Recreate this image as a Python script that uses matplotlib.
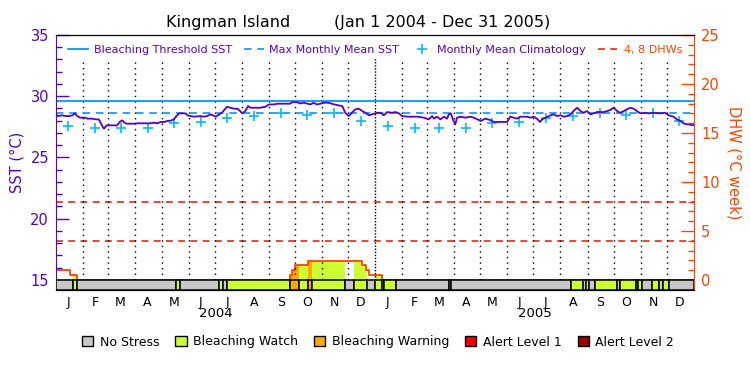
import matplotlib
matplotlib.use('Agg')
import matplotlib.pyplot as plt
import matplotlib.transforms as mtransforms
from matplotlib.lines import Line2D
from matplotlib.patches import Patch
import numpy as np

# ---------------- data (days since 2004-01-01) ----------------
sst_day = [0, 1.5, 7, 11, 15, 19, 21.5, 24.5, 27.5, 34, 36, 41.5, 45.5, 49, 51, 53, 55, 58, 61, 70,
           73, 76, 78.5, 81, 89, 93, 101, 108, 112, 116, 120, 124, 127.5, 131, 135, 138, 141, 148.5,
           150.5, 154, 158, 166, 170, 173, 177, 181, 183, 187, 190, 196, 200, 204, 208, 211, 213.5,
           217, 220, 223, 229, 234, 240, 244, 250, 253.5, 268, 271, 276, 280, 284, 291.5, 295, 299,
           303, 307, 312, 319, 324, 328, 331.5, 335.5, 339, 343, 347, 351, 354.5, 358.5, 362, 368,
           372, 375.5, 379.5, 385, 389, 393, 396.5, 402.5, 414, 421.5, 427, 431, 433, 436.5, 440.5,
           444.5, 448, 450, 452.5, 455, 457.5, 459.5, 463.5, 469, 475, 478.5, 484.5, 486.5, 492,
           497.5, 501.5, 509, 517, 518.5, 520.5, 524.5, 528, 532, 539.5, 543.5, 547.5, 551, 554.5,
           557, 561, 566.5, 570.5, 574, 578, 582, 585.5, 589.5, 593, 597, 601, 604.5, 608.5, 612.5,
           616, 620, 627.5, 631.5, 635, 639, 643, 646.5, 650.5, 654, 658, 662, 665.5, 669.5, 673.5,
           679, 684.5, 692.5, 698, 702, 707.5, 711.5, 715.5, 719, 723, 726.5, 731]
sst_val = [28.60, 28.38, 28.44, 28.38, 28.38, 28.44, 28.60, 28.38, 28.25, 28.25, 28.17, 28.17, 28.11,
           28.11, 27.84, 27.57, 27.35, 27.62, 27.62, 27.62, 27.90, 28.03, 27.84, 27.76, 27.76, 27.79,
           27.79, 27.79, 27.84, 27.79, 27.90, 27.90, 27.98, 28.00, 28.11, 28.38, 28.60, 28.60, 28.44,
           28.38, 28.33, 28.38, 28.33, 28.38, 28.52, 28.40, 28.33, 28.52, 28.65, 29.14, 29.06, 28.98,
           28.98, 28.79, 28.60, 28.79, 29.20, 29.06, 29.06, 29.06, 29.14, 29.33, 29.33, 29.39, 29.39,
           29.52, 29.52, 29.41, 29.47, 29.33, 29.47, 29.33, 29.39, 29.47, 29.47, 29.33, 29.25, 29.20,
           28.65, 28.38, 28.65, 28.93, 28.98, 28.79, 28.65, 28.44, 28.52, 28.65, 28.65, 28.44, 28.71,
           28.65, 28.71, 28.60, 28.38, 28.33, 28.33, 28.25, 28.11, 28.38, 28.17, 28.33, 28.11, 28.33,
           28.17, 28.52, 28.60, 28.06, 27.71, 28.25, 28.33, 28.25, 28.33, 28.25, 28.06, 27.98, 28.17,
           28.06, 27.90, 27.90, 27.90, 28.11, 28.33, 28.25, 28.17, 28.33, 28.33, 28.25, 28.33, 28.17,
           27.90, 28.11, 28.25, 28.44, 28.52, 28.38, 28.44, 28.33, 28.38, 28.52, 28.79, 29.06, 28.79,
           28.65, 28.79, 28.52, 28.60, 28.71, 28.71, 28.79, 28.87, 29.06, 28.79, 28.65, 28.79, 28.93,
           29.06, 28.98, 28.79, 28.60, 28.65, 28.60, 28.65, 28.60, 28.65, 28.44, 28.33, 28.11, 27.98,
           27.79, 27.71, 27.68, 27.63]

clim_val = [27.58, 27.44, 27.42, 27.42, 27.79, 27.92, 28.24, 28.39, 28.61, 28.46, 28.61, 27.99]
mmm_sst = 28.63
threshold_sst = 29.63
dhw_lines = [4, 8]

dhw_start = [0, 16, 24, 268, 270.5, 273.5, 289, 351, 355, 359, 374]
dhw_val = [1.0, 0.5, 0, 0.5, 1.0, 1.5, 1.9, 1.5, 1.0, 0.5, 0]

stress_start = [0, 19, 24, 137, 142, 187, 191.5, 195.5, 268, 278.5, 289, 293, 331, 341.5, 356,
                366, 374, 375.5, 389.5, 450.5, 453, 590.5, 604, 607, 610.5, 618, 643, 646.5,
                664, 667, 671, 683, 691, 695.5, 702.5]
stress_level = [0, 1, 0, 1, 0, 1, 0, 1, 2, 1, 2, 1, 0, 1, 0,
                1, 0, 1, 0, 1, 0, 1, 0, 1, 0, 1, 0, 1,
                0, 1, 0, 1, 0, 1, 0]
n_days = 731

stress_names = ['No Stress', 'Bleaching Watch', 'Bleaching Warning', 'Alert Level 1', 'Alert Level 2']
stress_colors = ['#c8c8c8', '#ccff33', '#ffaa00', '#ee0000', '#990000']
month_letters = ['J', 'F', 'M', 'A', 'M', 'J', 'J', 'A', 'S', 'O', 'N', 'D']
years = ['2004', '2005']

# ---------------- styles ----------------
PURPLE = '#5500cc'
ORANGE = '#ff4400'
BLUE = '#0099ff'
CYAN = '#00bbff'
RED = '#ee1100'

months = np.arange('2004-01', '2006-01', dtype='datetime64[M]')
month_start = (months.astype('datetime64[D]') - np.datetime64('2004-01-01')).astype(int)
month_mid = month_start + 14

fig = plt.figure(figsize=(7.5, 3.75), dpi=100)
ax = fig.add_axes([56 / 750, 1 - 290 / 375, 638 / 750, 255 / 375])
ax2 = ax.twinx()
ax.set_zorder(ax2.get_zorder() + 1)
ax.patch.set_visible(False)

ybot = 14.18
ax.set_xlim(0, n_days)
ax.set_ylim(ybot, 35)
ax2.set_ylim((ybot - 15) * 1.25, 25)

# DHW fill coloured by stress level, then outline
stress_end = stress_start[1:] + [n_days]
dhw_end = dhw_start[1:] + [n_days]
for s0, s1, lev in zip(stress_start, stress_end, stress_level):
    if lev == 0:
        continue
    for d0, d1, v in zip(dhw_start, dhw_end, dhw_val):
        a, b = max(s0, d0), min(s1, d1)
        if b > a and v > 0:
            ax2.bar(a, v, width=b - a, align='edge', color=stress_colors[lev], linewidth=0)
ax2.step(dhw_start + [n_days], dhw_val + [dhw_val[-1]], where='post', color=ORANGE, lw=1.3)
for d in dhw_lines:
    ax2.axhline(d, color=RED, lw=1.1, ls=(0, (4.5, 3.5)))

# month grid lines
for m in month_start[1:]:
    dens = (0, (1, 1.2)) if m == 366 else (0, (1, 3))
    ax.vlines(m, 15, 33.1, colors='black', lw=1, linestyles=[dens])

# stress bar
for s0, s1, lev in zip(stress_start, stress_end, stress_level):
    ax.bar(s0, 15 - ybot, width=s1 - s0, bottom=ybot, align='edge',
           color=stress_colors[lev], edgecolor='black', linewidth=1.1, zorder=3)

# SST items
ax.axhline(threshold_sst, color=BLUE, lw=1.3)
ax.axhline(mmm_sst, color=BLUE, lw=1.2, ls=(0, (4.5, 3.5)))
for yr in range(2):
    ax.plot(month_mid[yr * 12:(yr + 1) * 12], clim_val, ls='none', marker='+',
            color=CYAN, markersize=7, markeredgewidth=1.2, zorder=4)
ax.plot(sst_day, sst_val, color=PURPLE, lw=1.3, zorder=5)

# axes styling
ax.spines['left'].set_color(PURPLE)
ax.spines['right'].set_visible(False)
ax2.spines['right'].set_color(ORANGE)
ax2.spines['left'].set_visible(False)
ax.set_yticks(np.arange(15, 36, 5))
ax.set_yticks(np.arange(15, 36, 1), minor=True)
ax.tick_params(axis='y', which='both', direction='in', colors=PURPLE, labelsize=10.5, pad=5)
ax.tick_params(axis='y', which='major', length=9.5, width=1)
ax.tick_params(axis='y', which='minor', length=4.5, width=1)
ax2.set_yticks(np.arange(0, 26, 5))
ax2.set_yticks(np.arange(0, 26, 1), minor=True)
ax2.tick_params(axis='y', which='both', direction='in', colors=ORANGE, labelsize=10.5, pad=5)
ax2.tick_params(axis='y', which='major', length=9.5, width=1)
ax2.tick_params(axis='y', which='minor', length=4.5, width=1)

ax.set_xticks(month_mid)
ax.set_xticklabels(month_letters * 2)
ax.tick_params(axis='x', length=0, labelsize=9, pad=4)
trans = mtransforms.blended_transform_factory(ax.transData, ax.transAxes)
for i, y in enumerate(years):
    ax.text(month_start[i * 12] + 183, -0.094, y, transform=trans, ha='center', va='center', fontsize=9.5)

ax.set_ylabel('SST (°C)', color=PURPLE, fontsize=10.5, labelpad=4)
ax2.set_ylabel('DHW (°C week)', color=ORANGE, fontsize=10.5, rotation=270, labelpad=16)

fig.text(166 / 750, 1 - 22 / 375, 'Kingman Island', ha='left', va='center', fontsize=11.5)
fig.text(334 / 750, 1 - 22 / 375, '(Jan 1 2004 - Dec 31 2005)', ha='left', va='center', fontsize=11.5)

# legends
handles = [Line2D([], [], color=BLUE, lw=1.3),
           Line2D([], [], color=BLUE, lw=1.2, ls=(0, (4.5, 3.5))),
           Line2D([], [], color=CYAN, ls='none', marker='+', markersize=7, markeredgewidth=1.2),
           Line2D([], [], color=RED, lw=1.1, ls=(0, (4.5, 3.5)))]
labels = ['Bleaching Threshold SST', 'Max Monthly Mean SST', 'Monthly Mean Climatology', '4, 8 DHWs']
ax.legend(handles, labels, loc='upper center', bbox_to_anchor=(0.5, 1.0), ncol=4, frameon=False,
          fontsize=8, handlelength=1.8, handletextpad=0.5, columnspacing=1.1,
          labelcolor=[PURPLE, PURPLE, PURPLE, ORANGE])

shand = [Patch(facecolor=c, edgecolor='black', linewidth=1) for c in stress_colors]
fig.legend(shand, stress_names, loc='center', bbox_to_anchor=(378 / 750, 1 - 342 / 375), ncol=5,
           frameon=False, fontsize=9, handlelength=0.9, handleheight=0.9, handletextpad=0.5,
           columnspacing=1.3)

fig.savefig('out.png', dpi=100)
